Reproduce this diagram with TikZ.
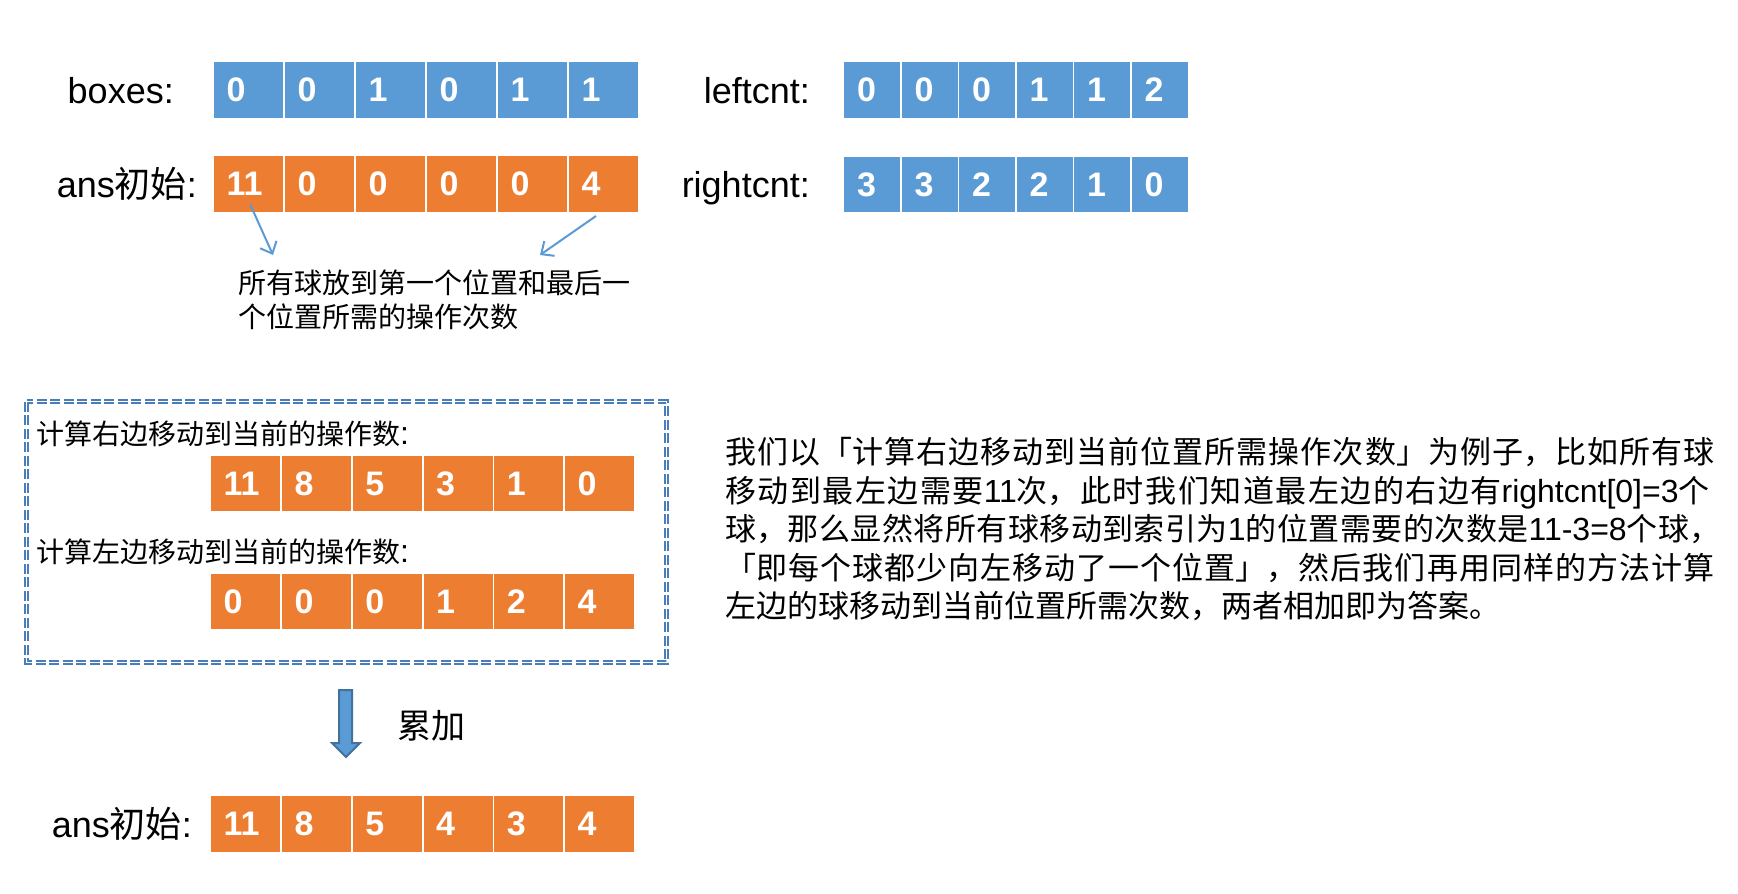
\documentclass[tikz,border=0pt]{standalone}
\usepackage{fontspec}
\setmainfont{Liberation Sans}
\newfontfamily\cjk{Noto Sans CJK SC}
\usetikzlibrary{arrows.meta}
\XeTeXlinebreaklocale "zh"
\XeTeXlinebreakskip=0pt plus 6pt
\definecolor{cblue}{HTML}{5B9BD5}
\definecolor{corange}{HTML}{ED7D31}
\definecolor{cdark}{HTML}{41719C}
\definecolor{cdash}{HTML}{4A7EBB}
\tikzset{
  cellbig/.style={inner xsep=12.5pt, inner ysep=0pt, text width=44pt, align=left,
    minimum height=55.5pt, font=\fontsize{34}{34}\selectfont\bfseries, text=white, anchor=west},
  cellsmall/.style={inner xsep=13pt, inner ysep=0pt, text width=30pt, align=left,
    minimum height=55.5pt, font=\fontsize{34}{34}\selectfont\bfseries, text=white, anchor=west},
  lbl/.style={inner sep=0pt, anchor=base east, font=\fontsize{36}{36}\selectfont},
  cjktext/.style={inner sep=0pt, anchor=base west, font=\fontsize{28}{28}\selectfont\cjk},
  parajust/.style={inner sep=0pt, anchor=base west, text width=1000pt,
    font=\fontsize{31}{31}\selectfont\cjk},
  paranat/.style={inner sep=0pt, anchor=base west, font=\fontsize{31}{31}\selectfont\cjk},
  thinarrow/.style={draw=cblue, line width=2pt, -{Straight Barb[length=10pt,width=18pt,line width=2pt]}},
}
\newcommand{\lt}[1]{{\fontspec{Liberation Sans}\fontsize{32}{32}\selectfont #1}}
\newcommand{\fullline}[1]{\noindent #1\hskip 0pt plus -1fil\null}
\begin{document}
\begin{tikzpicture}[x=1pt,y=-1pt]
\useasboundingbox (0,0) rectangle (1738,894);

% labels
\node[lbl] (lboxes) at (174,103) {boxes:};
\node[lbl] (lans) at (197,197) {ans{\cjk 初始}:};
\node[lbl] (lleft) at (810,103) {leftcnt:};
\node[lbl] (lright) at (810,197) {rightcnt:};
\node[lbl] (lans2) at (192,837) {ans{\cjk 初始}:};

% rows
\foreach \v [count=\i] in {0,0,1,0,1,1}
  \node[cellbig, fill=cblue] (bx\i) at ({214+71*(\i-1)},90) {\v};
\foreach \v [count=\i] in {11,0,0,0,0,4}
  \node[cellbig, fill=corange] (an\i) at ({214+71*(\i-1)},184) {\v};
\foreach \v [count=\i] in {0,0,0,1,1,2}
  \node[cellsmall, fill=cblue] (lc\i) at ({844+57.5*(\i-1)},90) {\v};
\foreach \v [count=\i] in {3,3,2,2,1,0}
  \node[cellsmall, fill=cblue] (rc\i) at ({844+57.5*(\i-1)},184.5) {\v};
\foreach \v [count=\i] in {11,8,5,3,1,0}
  \node[cellbig, fill=corange] (rr\i) at ({211+70.8*(\i-1)},483.5) {\v};
\foreach \v [count=\i] in {0,0,0,1,2,4}
  \node[cellbig, fill=corange] (ll\i) at ({211+70.8*(\i-1)},601.5) {\v};
\foreach \v [count=\i] in {11,8,5,4,3,4}
  \node[cellbig, fill=corange] (ff\i) at ({211+70.8*(\i-1)},824) {\v};

% annotation arrows
\coordinate (a1s) at (250,204);
\coordinate (a1e) at (273,255);
\coordinate (a2s) at (596,216);
\coordinate (a2e) at (540,255);
\draw[thinarrow] (a1s) -- (a1e);
\draw[thinarrow] (a2s) -- (a2e);

\node[cjktext] (ann1) at (238,293) {所有球放到第一个位置和最后一};
\node[cjktext] (ann2) at (238,327) {个位置所需的操作次数};

% dashed box
\draw[cdash, line width=1.4pt, double=white, double distance=1.8pt, dash pattern=on 10pt off 3.5pt]
  (26.5,401.5) rectangle (666.5,662.5);
\node[cjktext] (sec1) at (36,444) {计算右边移动到当前的操作数\lt{:}};
\node[cjktext] (sec2) at (36,562) {计算左边移动到当前的操作数\lt{:}};

% block arrow
\draw[fill=cblue, draw=cdark, line width=2pt, line join=miter]
  (339,690) -- (352,690) -- (352,743) -- (360,743) -- (346,757) -- (332,743) -- (339,743) -- cycle;
\node[inner sep=0pt, anchor=base west, font=\fontsize{34}{34}\selectfont\cjk] (acc) at (397,738) {累加};

% paragraph
\node[parajust] (p1) at (725,463.5) {\fullline{我们以「计算右边移动到当前位置所需操作次数」为例子，比如所有球}};
\node[parajust] (p2) at (725,502) {\fullline{移动到最左边需要\lt{11}次，此时我们知道最左边的右边有\lt{rightcnt[0]=3}个}};
\node[parajust] (p3) at (725,540.5) {\fullline{球，那么显然将所有球移动到索引为\lt{1}的位置需要的次数是\lt{11-3=8}个球，}};
\node[parajust] (p4) at (725,579) {\fullline{「即每个球都少向左移动了一个位置」，然后我们再用同样的方法计算}};
\node[paranat] (p5) at (725,617.5) {左边的球移动到当前位置所需次数，两者相加即为答案。};
\end{tikzpicture}
\end{document}
